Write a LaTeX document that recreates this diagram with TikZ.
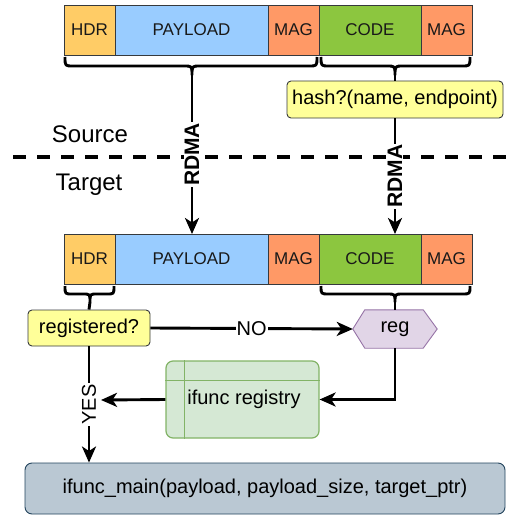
\documentclass[tikz,border=0pt]{standalone}
\usepackage{fontspec}
\setmainfont{Liberation Sans}
\usetikzlibrary{arrows.meta,backgrounds}
\definecolor{hdrc}{HTML}{FFCC66}
\definecolor{payc}{HTML}{99CCFF}
\definecolor{magc}{HTML}{FF9966}
\definecolor{codec}{HTML}{8CC63F}
\definecolor{notec}{HTML}{FFFF99}
\definecolor{regf}{HTML}{E1D5E7}
\definecolor{regd}{HTML}{9673A6}
\definecolor{grnf}{HTML}{D5E8D4}
\definecolor{grnd}{HTML}{82B366}
\definecolor{mainf}{HTML}{BAC8D3}
\definecolor{maind}{HTML}{23445D}
\definecolor{edgec}{HTML}{36393D}
\tikzset{
  cell/.style={draw=edgec, line width=0.9pt, inner sep=0pt, outer sep=0pt,
    minimum height=50pt, font=\fontsize{17}{20}\selectfont, text=black!90},
  notebox/.style={draw=edgec, fill=notec, rounded corners=4pt, line width=0.9pt,
    inner sep=0pt, font=\fontsize{20}{24}\selectfont},
  conn/.style={line width=2.9pt, draw=black},
  arr/.style={conn, -{Stealth[length=16pt,width=14pt,inset=4.5pt]}},
  lbl/.style={fill=white, inner sep=1pt, font=\fontsize{20}{24}\selectfont},
  rdma/.style={fill=white, inner sep=1pt, font=\fontsize{21}{24}\selectfont\bfseries, rotate=90},
  sidelbl/.style={font=\fontsize{24}{28}\selectfont, anchor=base, inner sep=0pt},
  bracestyle/.style={line width=2.9pt, line join=round}
}
\begin{document}
\begin{tikzpicture}[x=1pt,y=-1pt]
\useasboundingbox (0,0) rectangle (506,516);

% separator
\draw[line width=4pt, dash pattern=on 13pt off 11pt] (13,157) -- (506,157);
\node[sidelbl] (src) at (90,142) {Source};
\node[sidelbl] (tgt) at (89,190) {Target};

% top row
\node[cell, fill=hdrc, minimum width=51pt] (h1) at (89.5,30) {HDR};
\node[cell, fill=payc, minimum width=153pt] (p1) at (191.5,30) {PAYLOAD};
\node[cell, fill=magc, minimum width=51pt] (m1) at (293.5,30) {MAG};
\node[cell, fill=codec, minimum width=102pt] (c1) at (370,30) {CODE};
\node[cell, fill=magc, minimum width=51pt] (n1) at (446.5,30) {MAG};

% bottom row
\node[cell, fill=hdrc, minimum width=51pt] (h2) at (89.5,259) {HDR};
\node[cell, fill=payc, minimum width=153pt] (p2) at (191.5,259) {PAYLOAD};
\node[cell, fill=magc, minimum width=51pt] (m2) at (293.5,259) {MAG};
\node[cell, fill=codec, minimum width=102pt] (c2) at (370,259) {CODE};
\node[cell, fill=magc, minimum width=51pt] (n2) at (446.5,259) {MAG};

% braces
\draw[bracestyle] (65,57) .. controls (65,66) .. (73,66) -- (184,66)
  .. controls (192,66) .. (192,75) .. controls (192,66) .. (200,66) -- (309,66)
  .. controls (317,66) .. (317,57);
\coordinate (b1) at (192,75);
\draw[bracestyle] (321,57) .. controls (321,66) .. (329,66) -- (387,66)
  .. controls (395,66) .. (395,75) .. controls (395,66) .. (403,66) -- (462,66)
  .. controls (470,66) .. (470,57);
\coordinate (b2) at (395,75);
\draw[bracestyle] (65,286) .. controls (65,294) .. (72,294) -- (83,294)
  .. controls (90,294) .. (90,302) .. controls (90,294) .. (97,294) -- (107,294)
  .. controls (114,294) .. (114,286);
\coordinate (b3) at (90,302);
\draw[bracestyle] (321,286) .. controls (321,294) .. (329,294) -- (387,294)
  .. controls (395,294) .. (395,302) .. controls (395,294) .. (403,294) -- (462,294)
  .. controls (470,294) .. (470,286);
\coordinate (b4) at (395,302);

% hash box
\node[notebox, minimum width=216pt, minimum height=37pt] (hash) at (395,99.5) {hash?(name, endpoint)};

% registered?
\node[notebox, minimum width=122pt, minimum height=36pt] (regq) at (89,328) {registered?};

% reg hexagon
\node[minimum width=84pt, minimum height=38pt, inner sep=0pt, font=\fontsize{20}{24}\selectfont] (reg) at (395,329) {reg};
\begin{scope}[on background layer]
\draw[fill=regf, draw=regd, line width=0.9pt]
  (reg.west) -- ([xshift=12pt]reg.north west) -- ([xshift=-14pt]reg.north east)
  -- (reg.east) -- ([xshift=-14pt]reg.south east) -- ([xshift=12pt]reg.south west) -- cycle;
\end{scope}

% registry
\node[draw=grnd, fill=grnf, line width=1.2pt, rounded corners=7pt,
  minimum width=153pt, minimum height=77pt, inner sep=0pt,
  font=\fontsize{20}{24}\selectfont] (registry) at (242.5,399.5) {\hspace{3pt}ifunc registry};
\draw[draw=grnd, line width=1.2pt] ([xshift=19pt]registry.north west) -- ([xshift=19pt]registry.south west);
\draw[draw=grnd, line width=1.2pt] ([yshift=-20pt]registry.north west) -- ([yshift=-20pt]registry.north east);

% main
\node[draw=maind, fill=mainf, line width=0.9pt, rounded corners=7pt,
  minimum width=480pt, minimum height=51pt, inner sep=0pt,
  font=\fontsize{20}{24}\selectfont] (main) at (265,488.5) {ifunc\_main(payload, payload\_size, target\_ptr)};

% connectors
\draw[arr] (b1) -- (b1 |- p2.north) node[rdma, midway] {RDMA};
\draw[conn] (b2) -- (hash.north);
\draw[arr] (hash.south) -- (hash.south |- c2.north) node[rdma, midway] {RDMA};
\draw[conn] (b3) -- (regq.north);
\draw[conn] (b4) -- (reg.north);
\draw[arr] (regq.east) -- (reg.west) node[lbl, midway] {NO};
\draw[arr] (regq.south) -- (regq.south |- main.north) node[lbl, rotate=90, midway] {YES};
\draw[arr] (reg.south) |- (registry.east);
\coordinate (yesend) at (101,400);
\draw[arr] (registry.west) -- (yesend);
\end{tikzpicture}
\end{document}
